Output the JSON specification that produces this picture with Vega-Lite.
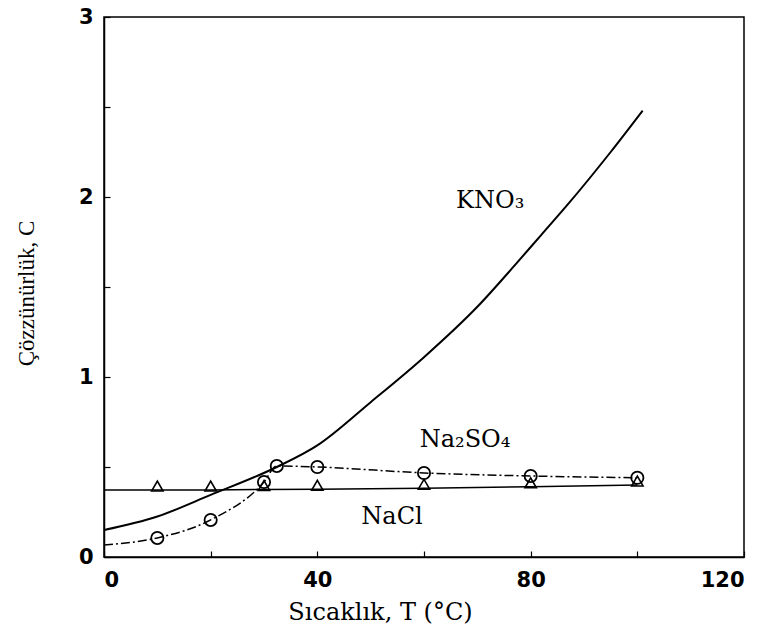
{
  "$schema": "https://vega.github.io/schema/vega-lite/v6.json",
  "width": 640,
  "height": 540,
  "autosize": {"type": "none"},
  "padding": {"left": 104, "top": 17, "right": 14, "bottom": 79},
  "background": "white",
  "config": {
    "view": {"stroke": "black", "strokeWidth": 1.5},
    "axis": {
      "grid": false,
      "domainColor": "black",
      "domainWidth": 1.5,
      "tickColor": "black",
      "tickWidth": 1.2,
      "tickSize": -6,
      "labelColor": "black",
      "labelFont": "DejaVu Sans",
      "labelFontSize": 21,
      "labelFontWeight": "bold",
      "titleColor": "black",
      "titleFontWeight": "normal"
    }
  },
  "datasets": {
    "kno3": [
      {"T": 0, "C": 0.15}, {"T": 10, "C": 0.225}, {"T": 20, "C": 0.345},
      {"T": 32.4, "C": 0.5}, {"T": 40, "C": 0.62}, {"T": 50, "C": 0.86},
      {"T": 60, "C": 1.11}, {"T": 70, "C": 1.39}, {"T": 77, "C": 1.62},
      {"T": 82, "C": 1.79}, {"T": 87, "C": 1.96}, {"T": 95, "C": 2.25},
      {"T": 101, "C": 2.48}
    ],
    "na2so4": [
      {"T": 0, "C": 0.067}, {"T": 10, "C": 0.106}, {"T": 20, "C": 0.206},
      {"T": 30, "C": 0.417}, {"T": 32.4, "C": 0.506}, {"T": 40, "C": 0.5},
      {"T": 60, "C": 0.467}, {"T": 80, "C": 0.45}, {"T": 100, "C": 0.44}
    ],
    "na2so4pts": [
      {"T": 10, "C": 0.106}, {"T": 20, "C": 0.206}, {"T": 30, "C": 0.417},
      {"T": 32.4, "C": 0.506}, {"T": 40, "C": 0.5}, {"T": 60, "C": 0.467},
      {"T": 80, "C": 0.45}, {"T": 100, "C": 0.44}
    ],
    "nacl": [
      {"T": 0, "C": 0.372}, {"T": 10, "C": 0.372}, {"T": 20, "C": 0.372},
      {"T": 30, "C": 0.375}, {"T": 40, "C": 0.376}, {"T": 60, "C": 0.382},
      {"T": 80, "C": 0.39}, {"T": 100, "C": 0.4}
    ],
    "naclpts": [
      {"T": 10, "C": 0.372}, {"T": 20, "C": 0.372}, {"T": 30, "C": 0.375},
      {"T": 40, "C": 0.376}, {"T": 60, "C": 0.382}, {"T": 80, "C": 0.39},
      {"T": 100, "C": 0.4}
    ],
    "labels": [
      {"T": 72.4, "C": 1.98, "text": "KNO₃"},
      {"T": 67.7, "C": 0.65, "text": "Na₂SO₄"},
      {"T": 54, "C": 0.22, "text": "NaCl"}
    ]
  },
  "encoding": {
    "x": {
      "field": "T", "type": "quantitative",
      "scale": {"domain": [0, 120], "nice": false},
      "axis": {
        "values": [0, 20, 40, 60, 80, 100, 120],
        "labelExpr": "datum.value % 40 == 0 ? format(datum.value, 'd') : ''",
        "labelPadding": 18,
        "title": "Sıcaklık, T (°C)",
        "titleFont": "DejaVu Serif",
        "titleFontSize": 24,
        "titleX": 276,
        "titleY": 62,
        "titleBaseline": "alphabetic",
        "titleAnchor": "middle"
      }
    },
    "y": {
      "field": "C", "type": "quantitative",
      "scale": {"domain": [0, 3], "nice": false},
      "axis": {
        "values": [0, 0.5, 1, 1.5, 2, 2.5, 3],
        "labelExpr": "datum.value % 1 == 0 ? format(datum.value, 'd') : ''",
        "labelPadding": 17,
        "title": "Çözzünürlük, C",
        "titleFont": "Liberation Serif",
        "titleFontSize": 23,
        "titleX": -66,
        "titleY": 276,
        "titleAngle": -90,
        "titleBaseline": "bottom",
        "titleAnchor": "middle"
      }
    }
  },
  "layer": [
    {
      "data": {"name": "kno3"},
      "mark": {"type": "line", "interpolate": "monotone", "color": "black", "strokeWidth": 2}
    },
    {
      "data": {"name": "na2so4"},
      "mark": {"type": "line", "interpolate": "monotone", "color": "black", "strokeWidth": 1.5, "strokeDash": [9, 3, 2, 3]}
    },
    {
      "data": {"name": "nacl"},
      "mark": {"type": "line", "color": "black", "strokeWidth": 1.5}
    },
    {
      "data": {"name": "na2so4pts"},
      "mark": {"type": "point", "shape": "circle", "filled": false, "color": "black", "strokeWidth": 1.8, "size": 150, "opacity": 1}
    },
    {
      "data": {"name": "naclpts"},
      "mark": {"type": "point", "shape": "triangle-up", "filled": false, "color": "black", "strokeWidth": 1.6, "size": 130, "opacity": 1, "yOffset": -4}
    },
    {
      "data": {"name": "labels"},
      "mark": {"type": "text", "font": "DejaVu Serif", "fontSize": 24, "color": "black", "align": "center", "baseline": "middle"},
      "encoding": {"text": {"field": "text"}}
    }
  ]
}
